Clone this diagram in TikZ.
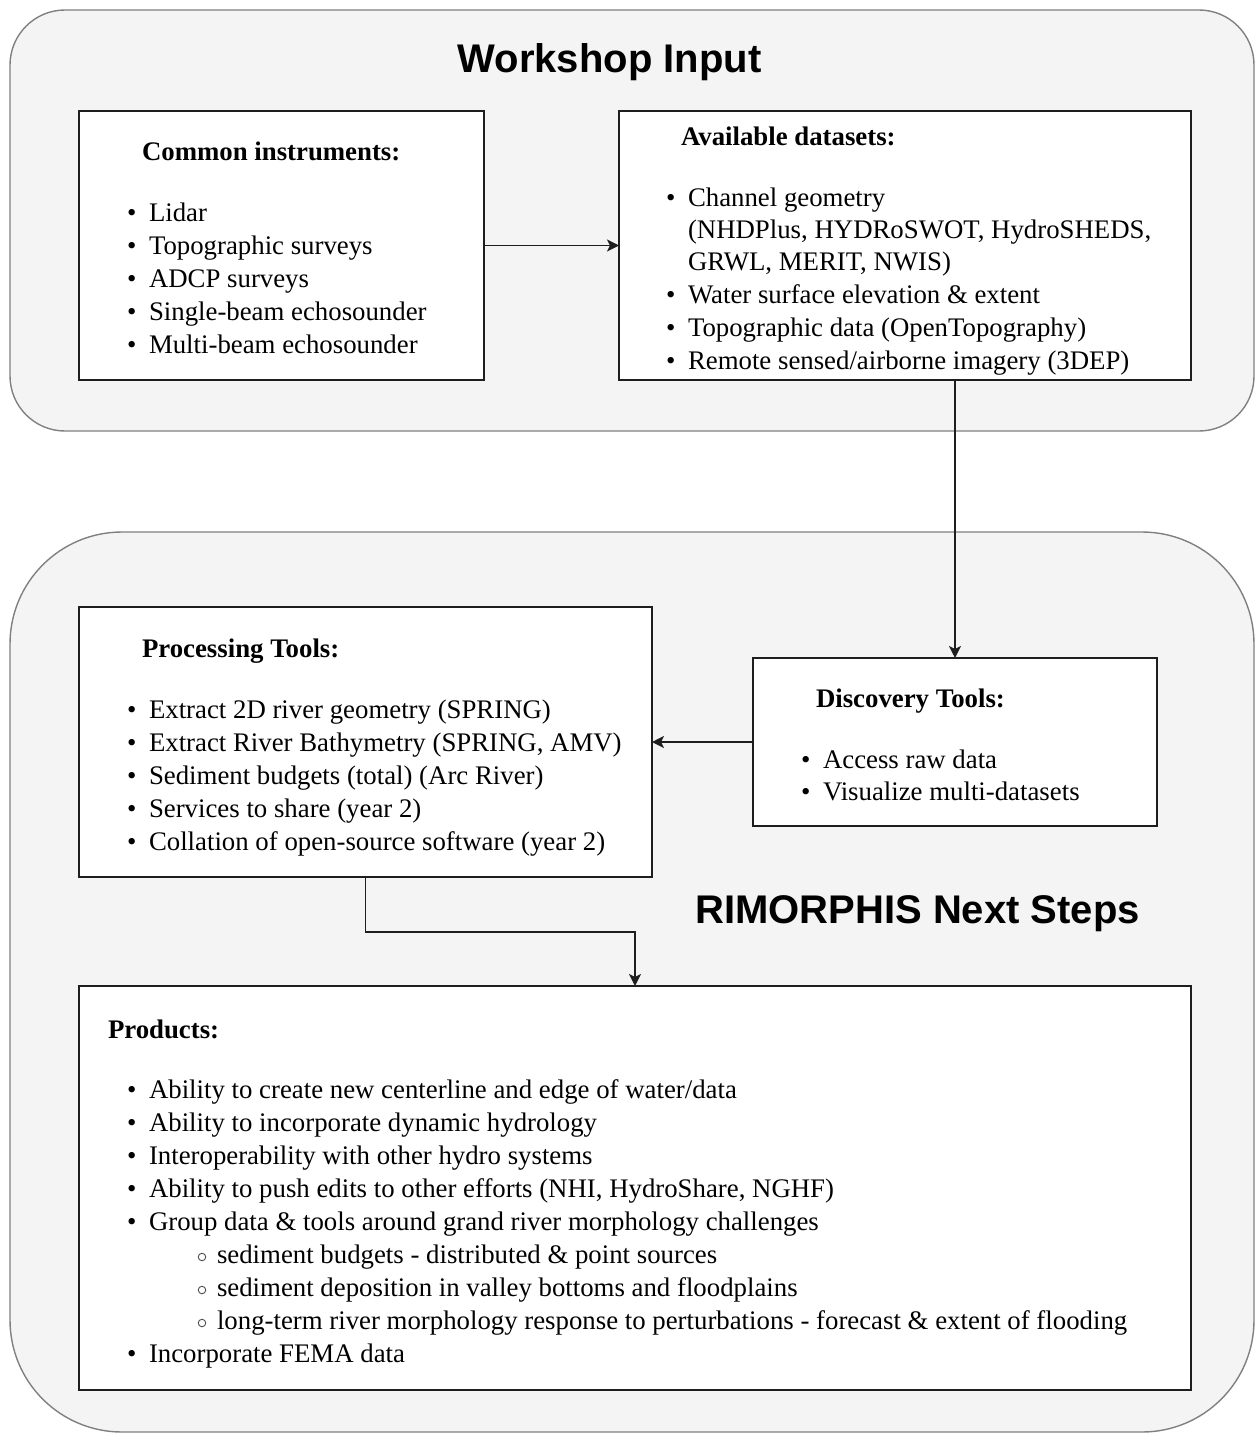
\documentclass[tikz,border=0pt]{standalone}
\usepackage{fontspec}
\setmainfont{Liberation Serif}
\newfontfamily\titlefont{Liberation Sans}
\usetikzlibrary{arrows.meta,calc}
\definecolor{grpfill}{HTML}{F4F4F4}
\definecolor{grpline}{HTML}{808080}
\definecolor{boxline}{HTML}{1E1E1E}
\tikzset{
  grp/.style={draw=grpline, fill=grpfill, line width=1.4pt, rectangle, anchor=north west, inner sep=0pt, outer sep=0pt},
  box/.style={draw=boxline, fill=white, line width=1.8pt, rectangle, anchor=north west, inner sep=0pt, outer sep=0pt},
  conn/.style={draw=boxline, line width=1.8pt, -{Stealth[length=12pt,width=12pt,inset=3pt]}},
  txt/.style={anchor=base west, inner sep=0pt, outer sep=0pt, font=\fontsize{26.8}{33}\selectfont, text=black},
  hdr/.style={txt, font=\fontsize{26.8}{33}\selectfont\bfseries},
  ttl/.style={anchor=base, inner sep=0pt, font=\fontsize{40}{46}\selectfont\titlefont\bfseries, text=black},
  sub/.style={circle, draw=black!70, line width=0.9pt, minimum size=7.5pt, inner sep=0pt}
}
\newcommand{\bitem}[4]{%
  \node[txt] (#1b) at (#2,#3) {\textbullet};
  \node[txt] (#1) at (#2+22,#3) {#4};}
\newcommand{\sitem}[4]{%
  \node[sub] (#1b) at (#2,#3-6) {};
  \node[txt] (#1) at (#2+15,#3) {#4};}
\begin{document}
\begin{tikzpicture}[x=1pt,y=-1pt]
\useasboundingbox (0,0) rectangle (1254,1437);
% groups
\node[grp, rounded corners=55pt, minimum width=1244pt, minimum height=421pt] (g1) at (10,10) {};
\node[grp, rounded corners=112pt, minimum width=1244pt, minimum height=900pt] (g2) at (10,532) {};
\node[ttl] (t1) at (609.5,73) {Workshop Input};
\node[ttl] (t2) at (917.5,923) {RIMORPHIS Next Steps};
% boxes
\node[box, minimum width=405pt, minimum height=269pt] (ci) at (79,111) {};
\node[box, minimum width=572pt, minimum height=269pt] (ad) at (619,111) {};
\node[box, minimum width=573pt, minimum height=270pt] (pt) at (79,607) {};
\node[box, minimum width=404pt, minimum height=168pt] (dt) at (753,658) {};
\node[box, minimum width=1112pt, minimum height=404pt] (pr) at (79,986) {};
% Common instruments
\node[hdr] (cih) at (142,160) {Common instruments:};
\bitem{ci1}{127}{221}{Lidar}
\bitem{ci2}{127}{254}{Topographic surveys}
\bitem{ci3}{127}{287}{ADCP surveys}
\bitem{ci4}{127}{320}{Single-beam echosounder}
\bitem{ci5}{127}{353}{Multi-beam echosounder}
% Available datasets
\node[hdr] (adh) at (681,145) {Available datasets:};
\bitem{ad1}{666}{206}{Channel geometry}
\node[txt] (ad1a) at (688,238) {(NHDPlus, HYDRoSWOT, HydroSHEDS,};
\node[txt] (ad1c) at (688,270) {GRWL, MERIT, NWIS)};
\bitem{ad2}{666}{303}{Water surface elevation \& extent}
\bitem{ad3}{666}{336}{Topographic data (OpenTopography)}
\bitem{ad4}{666}{369}{Remote sensed/airborne imagery (3DEP)}
% Processing tools
\node[hdr] (pth) at (142,657) {Processing Tools:};
\bitem{pt1}{127}{718}{Extract 2D river geometry (SPRING)}
\bitem{pt2}{127}{751}{Extract River Bathymetry (SPRING, AMV)}
\bitem{pt3}{127}{784}{Sediment budgets (total) (Arc River)}
\bitem{pt4}{127}{817}{Services to share (year 2)}
\bitem{pt5}{127}{850}{Collation of open-source software (year 2)}
% Discovery tools
\node[hdr] (dth) at (816,707) {Discovery Tools:};
\bitem{dt1}{801}{768}{Access raw data}
\bitem{dt2}{801}{800}{Visualize multi-datasets}
% Products
\node[hdr] (prh) at (108,1038) {Products:};
\bitem{pr1}{127}{1098}{Ability to create new centerline and edge of water/data}
\bitem{pr2}{127}{1131}{Ability to incorporate dynamic hydrology}
\bitem{pr3}{127}{1164}{Interoperability with other hydro systems}
\bitem{pr4}{127}{1197}{Ability to push edits to other efforts (NHI, HydroShare, NGHF)}
\bitem{pr5}{127}{1230}{Group data \& tools around grand river morphology challenges}
\sitem{ps1}{202}{1263}{sediment budgets - distributed \& point sources}
\sitem{ps2}{202}{1296}{sediment deposition in valley bottoms and floodplains}
\sitem{ps3}{202}{1329}{long-term river morphology response to perturbations - forecast \& extent of flooding}
\bitem{pr6}{127}{1362}{Incorporate FEMA data}
% connectors
\draw[conn] (ci.east) -- (ad.west);
\draw[conn] (ad.south -| dt.north) -- (dt.north);
\draw[conn] (dt.west) -- (dt.west -| pt.east);
\draw[conn] (pt.south) -- ++(0,55) -| (pr.north);
\end{tikzpicture}
\end{document}
